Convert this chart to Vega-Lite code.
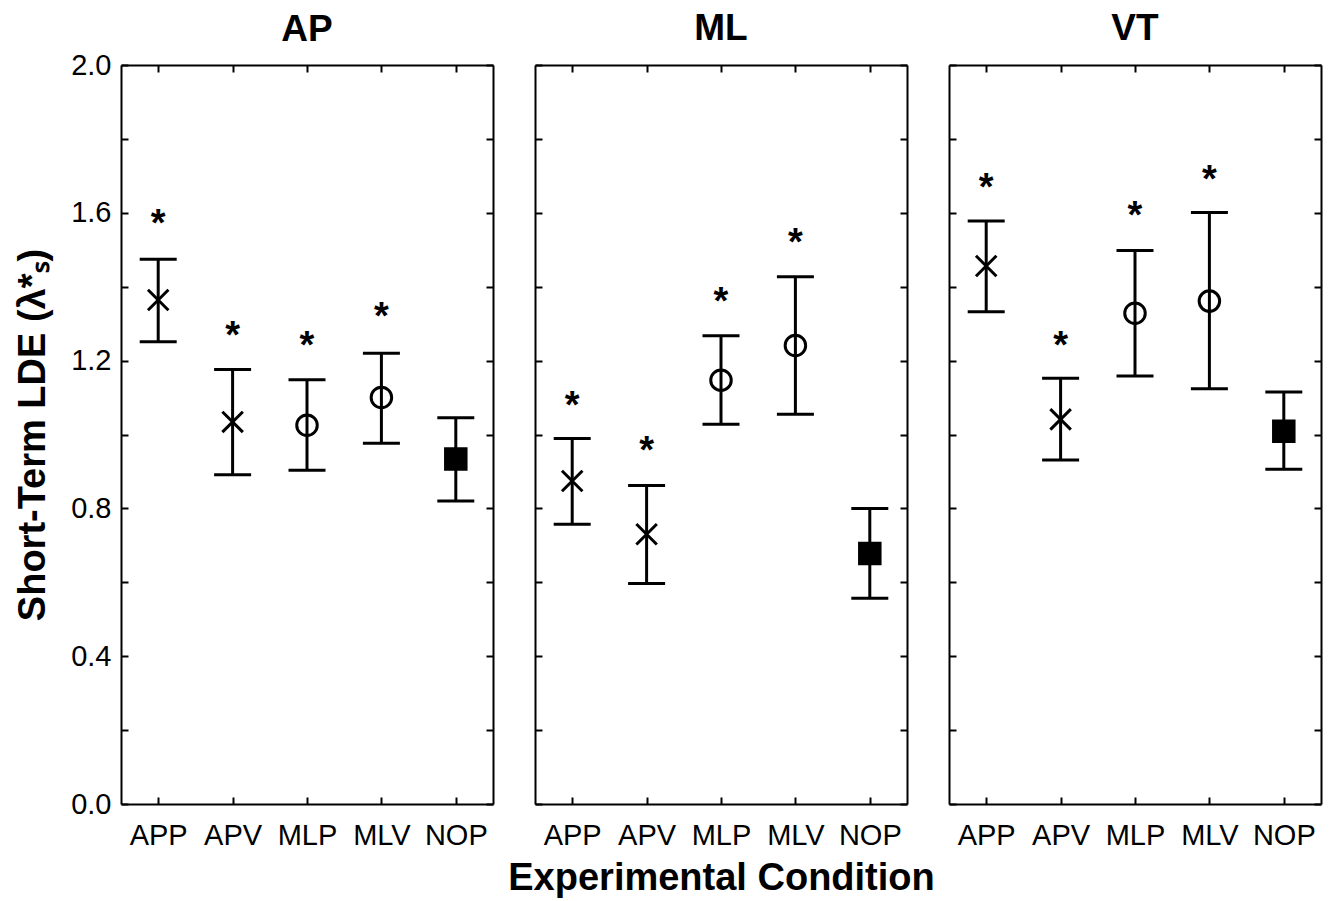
{
  "$schema": "https://vega.github.io/schema/vega-lite/v6.json",
  "background": "white",
  "padding": {"left": 14, "top": 10, "right": 5, "bottom": 5},
  "spacing": 42,
  "bounds": "flush",
  "config": {
    "font": "Liberation Sans",
    "view": {"stroke": null},
    "axis": {"grid": false, "domainColor": "black", "tickColor": "black", "domainWidth": 2, "tickWidth": 2, "labelColor": "black", "titleColor": "black", "labelFont": "Liberation Sans", "titleFont": "Liberation Sans"},
    "title": {"font": "Liberation Sans", "fontSize": 37, "fontWeight": "bold", "color": "black", "anchor": "middle", "baseline": "alphabetic", "offset": 16, "frame": "group"}
  },
  "datasets": {
    "d": [
      {"panel": "AP", "cond": "APP", "mean": 1.364, "lo": 1.251, "hi": 1.474, "star": 1.59},
      {"panel": "AP", "cond": "APV", "mean": 1.034, "lo": 0.891, "hi": 1.176, "star": 1.289},
      {"panel": "AP", "cond": "MLP", "mean": 1.025, "lo": 0.903, "hi": 1.148, "star": 1.26},
      {"panel": "AP", "cond": "MLV", "mean": 1.10, "lo": 0.976, "hi": 1.22, "star": 1.341},
      {"panel": "AP", "cond": "NOP", "mean": 0.934, "lo": 0.82, "hi": 1.045, "star": null},
      {"panel": "ML", "cond": "APP", "mean": 0.874, "lo": 0.757, "hi": 0.989, "star": 1.10},
      {"panel": "ML", "cond": "APV", "mean": 0.73, "lo": 0.597, "hi": 0.862, "star": 0.978},
      {"panel": "ML", "cond": "MLP", "mean": 1.147, "lo": 1.028, "hi": 1.267, "star": 1.379},
      {"panel": "ML", "cond": "MLV", "mean": 1.241, "lo": 1.055, "hi": 1.427, "star": 1.539},
      {"panel": "ML", "cond": "NOP", "mean": 0.678, "lo": 0.557, "hi": 0.80, "star": null},
      {"panel": "VT", "cond": "APP", "mean": 1.456, "lo": 1.332, "hi": 1.578, "star": 1.69},
      {"panel": "VT", "cond": "APV", "mean": 1.041, "lo": 0.931, "hi": 1.152, "star": 1.262},
      {"panel": "VT", "cond": "MLP", "mean": 1.328, "lo": 1.158, "hi": 1.498, "star": 1.612},
      {"panel": "VT", "cond": "MLV", "mean": 1.361, "lo": 1.124, "hi": 1.601, "star": 1.71},
      {"panel": "VT", "cond": "NOP", "mean": 1.009, "lo": 0.906, "hi": 1.115, "star": null}
    ]
  },
  "hconcat": [
    {
      "width": 372, "height": 739,
      "title": {"text": "AP", "offset": 2},
      "data": {"name": "d"},
      "transform": [{"filter": "datum.panel == 'AP'"}],
      "layer": [
        {"mark": {"type": "rule", "strokeWidth": 3, "color": "black"},
         "encoding": {
           "x": {"field": "cond", "type": "nominal", "scale": {"type": "point", "padding": 0.5, "domain": ["APP", "APV", "MLP", "MLV", "NOP"]},
                 "axis": {"orient": "bottom", "title": null, "labelAngle": 0, "labelFontSize": 29, "tickSize": -7, "labelPadding": 24}},
           "y": {"field": "lo", "type": "quantitative", "scale": {"domain": [0, 2], "nice": false, "zero": false},
                 "axis": {"orient": "left", "values": [0, 0.2, 0.4, 0.6, 0.8, 1.0, 1.2, 1.4, 1.6, 1.8, 2.0], "labelExpr": "round(datum.value*10) % 4 == 0 ? format(datum.value, '.1f') : ''", "labelFontSize": 29, "tickSize": -7, "labelPadding": 17, "title": "Short-Term LDE  (λ*ₛ)", "titleFontSize": 38, "titleFontWeight": "bold", "titlePadding": 18}},
           "y2": {"field": "hi"}}},
        {"mark": {"type": "tick", "size": 37, "thickness": 3, "color": "black", "opacity": 1},
         "encoding": {
           "x": {"field": "cond", "type": "nominal", "scale": {"type": "point", "padding": 0.5, "domain": ["APP", "APV", "MLP", "MLV", "NOP"]},
                 "axis": {"orient": "top", "title": null, "labels": false, "tickSize": -7}},
           "y": {"field": "hi", "type": "quantitative", "scale": {"domain": [0, 2], "nice": false, "zero": false},
                 "axis": {"orient": "right", "title": null, "labels": false, "values": [0, 0.2, 0.4, 0.6, 0.8, 1.0, 1.2, 1.4, 1.6, 1.8, 2.0], "tickSize": -7}}}},
        {"mark": {"type": "tick", "size": 37, "thickness": 3, "color": "black", "opacity": 1},
         "encoding": {
           "x": {"field": "cond", "type": "nominal", "axis": null},
           "y": {"field": "lo", "type": "quantitative", "axis": null}}},
        {"mark": {"type": "point", "strokeWidth": 3, "stroke": "black", "opacity": 1},
         "encoding": {
           "x": {"field": "cond", "type": "nominal", "axis": null},
           "y": {"field": "mean", "type": "quantitative", "axis": null},
           "shape": {"field": "cond", "type": "nominal", "legend": null, "scale": {"domain": ["APP", "APV", "MLP", "MLV", "NOP"], "range": ["M-1,-1L1,1M-1,1L1,-1", "M-1,-1L1,1M-1,1L1,-1", "circle", "circle", "square"]}},
           "fill": {"field": "cond", "type": "nominal", "legend": null, "scale": {"domain": ["APP", "APV", "MLP", "MLV", "NOP"], "range": ["transparent", "transparent", "transparent", "transparent", "black"]}},
           "size": {"field": "cond", "type": "nominal", "legend": null, "scale": {"domain": ["APP", "APV", "MLP", "MLV", "NOP"], "range": [420, 420, 680, 680, 600]}}}},
        {"transform": [{"filter": "isValid(datum.star)"}],
         "mark": {"type": "text", "text": "*", "fontSize": 38, "fontWeight": "bold", "baseline": "alphabetic", "dy": 20, "color": "black"},
         "encoding": {
           "x": {"field": "cond", "type": "nominal", "axis": null},
           "y": {"field": "star", "type": "quantitative", "axis": null}}}
      ],
      "resolve": {"axis": {"x": "independent", "y": "independent"}}
    },
    {
      "width": 372, "height": 739,
      "title": "ML",
      "data": {"name": "d"},
      "transform": [{"filter": "datum.panel == 'ML'"}],
      "layer": [
        {"mark": {"type": "rule", "strokeWidth": 3, "color": "black"},
         "encoding": {
           "x": {"field": "cond", "type": "nominal", "scale": {"type": "point", "padding": 0.5, "domain": ["APP", "APV", "MLP", "MLV", "NOP"]},
                 "axis": {"orient": "bottom", "title": "Experimental Condition", "titleFontSize": 38, "titleFontWeight": "bold", "titlePadding": 9, "labelAngle": 0, "labelFontSize": 29, "tickSize": -7, "labelPadding": 24}},
           "y": {"field": "lo", "type": "quantitative", "scale": {"domain": [0, 2], "nice": false, "zero": false},
                 "axis": {"orient": "left", "values": [0, 0.2, 0.4, 0.6, 0.8, 1.0, 1.2, 1.4, 1.6, 1.8, 2.0], "labels": false, "tickSize": -7, "title": null}},
           "y2": {"field": "hi"}}},
        {"mark": {"type": "tick", "size": 37, "thickness": 3, "color": "black", "opacity": 1},
         "encoding": {
           "x": {"field": "cond", "type": "nominal", "scale": {"type": "point", "padding": 0.5, "domain": ["APP", "APV", "MLP", "MLV", "NOP"]},
                 "axis": {"orient": "top", "title": null, "labels": false, "tickSize": -7}},
           "y": {"field": "hi", "type": "quantitative", "scale": {"domain": [0, 2], "nice": false, "zero": false},
                 "axis": {"orient": "right", "title": null, "labels": false, "values": [0, 0.2, 0.4, 0.6, 0.8, 1.0, 1.2, 1.4, 1.6, 1.8, 2.0], "tickSize": -7}}}},
        {"mark": {"type": "tick", "size": 37, "thickness": 3, "color": "black", "opacity": 1},
         "encoding": {
           "x": {"field": "cond", "type": "nominal", "axis": null},
           "y": {"field": "lo", "type": "quantitative", "axis": null}}},
        {"mark": {"type": "point", "strokeWidth": 3, "stroke": "black", "opacity": 1},
         "encoding": {
           "x": {"field": "cond", "type": "nominal", "axis": null},
           "y": {"field": "mean", "type": "quantitative", "axis": null},
           "shape": {"field": "cond", "type": "nominal", "legend": null, "scale": {"domain": ["APP", "APV", "MLP", "MLV", "NOP"], "range": ["M-1,-1L1,1M-1,1L1,-1", "M-1,-1L1,1M-1,1L1,-1", "circle", "circle", "square"]}},
           "fill": {"field": "cond", "type": "nominal", "legend": null, "scale": {"domain": ["APP", "APV", "MLP", "MLV", "NOP"], "range": ["transparent", "transparent", "transparent", "transparent", "black"]}},
           "size": {"field": "cond", "type": "nominal", "legend": null, "scale": {"domain": ["APP", "APV", "MLP", "MLV", "NOP"], "range": [420, 420, 680, 680, 600]}}}},
        {"transform": [{"filter": "isValid(datum.star)"}],
         "mark": {"type": "text", "text": "*", "fontSize": 38, "fontWeight": "bold", "baseline": "alphabetic", "dy": 20, "color": "black"},
         "encoding": {
           "x": {"field": "cond", "type": "nominal", "axis": null},
           "y": {"field": "star", "type": "quantitative", "axis": null}}}
      ],
      "resolve": {"axis": {"x": "independent", "y": "independent"}}
    },
    {
      "width": 372, "height": 739,
      "title": "VT",
      "data": {"name": "d"},
      "transform": [{"filter": "datum.panel == 'VT'"}],
      "layer": [
        {"mark": {"type": "rule", "strokeWidth": 3, "color": "black"},
         "encoding": {
           "x": {"field": "cond", "type": "nominal", "scale": {"type": "point", "padding": 0.5, "domain": ["APP", "APV", "MLP", "MLV", "NOP"]},
                 "axis": {"orient": "bottom", "title": null, "labelAngle": 0, "labelFontSize": 29, "tickSize": -7, "labelPadding": 24}},
           "y": {"field": "lo", "type": "quantitative", "scale": {"domain": [0, 2], "nice": false, "zero": false},
                 "axis": {"orient": "left", "values": [0, 0.2, 0.4, 0.6, 0.8, 1.0, 1.2, 1.4, 1.6, 1.8, 2.0], "labels": false, "tickSize": -7, "title": null}},
           "y2": {"field": "hi"}}},
        {"mark": {"type": "tick", "size": 37, "thickness": 3, "color": "black", "opacity": 1},
         "encoding": {
           "x": {"field": "cond", "type": "nominal", "scale": {"type": "point", "padding": 0.5, "domain": ["APP", "APV", "MLP", "MLV", "NOP"]},
                 "axis": {"orient": "top", "title": null, "labels": false, "tickSize": -7}},
           "y": {"field": "hi", "type": "quantitative", "scale": {"domain": [0, 2], "nice": false, "zero": false},
                 "axis": {"orient": "right", "title": null, "labels": false, "values": [0, 0.2, 0.4, 0.6, 0.8, 1.0, 1.2, 1.4, 1.6, 1.8, 2.0], "tickSize": -7}}}},
        {"mark": {"type": "tick", "size": 37, "thickness": 3, "color": "black", "opacity": 1},
         "encoding": {
           "x": {"field": "cond", "type": "nominal", "axis": null},
           "y": {"field": "lo", "type": "quantitative", "axis": null}}},
        {"mark": {"type": "point", "strokeWidth": 3, "stroke": "black", "opacity": 1},
         "encoding": {
           "x": {"field": "cond", "type": "nominal", "axis": null},
           "y": {"field": "mean", "type": "quantitative", "axis": null},
           "shape": {"field": "cond", "type": "nominal", "legend": null, "scale": {"domain": ["APP", "APV", "MLP", "MLV", "NOP"], "range": ["M-1,-1L1,1M-1,1L1,-1", "M-1,-1L1,1M-1,1L1,-1", "circle", "circle", "square"]}},
           "fill": {"field": "cond", "type": "nominal", "legend": null, "scale": {"domain": ["APP", "APV", "MLP", "MLV", "NOP"], "range": ["transparent", "transparent", "transparent", "transparent", "black"]}},
           "size": {"field": "cond", "type": "nominal", "legend": null, "scale": {"domain": ["APP", "APV", "MLP", "MLV", "NOP"], "range": [420, 420, 680, 680, 600]}}}},
        {"transform": [{"filter": "isValid(datum.star)"}],
         "mark": {"type": "text", "text": "*", "fontSize": 38, "fontWeight": "bold", "baseline": "alphabetic", "dy": 20, "color": "black"},
         "encoding": {
           "x": {"field": "cond", "type": "nominal", "axis": null},
           "y": {"field": "star", "type": "quantitative", "axis": null}}}
      ],
      "resolve": {"axis": {"x": "independent", "y": "independent"}}
    }
  ]
}
